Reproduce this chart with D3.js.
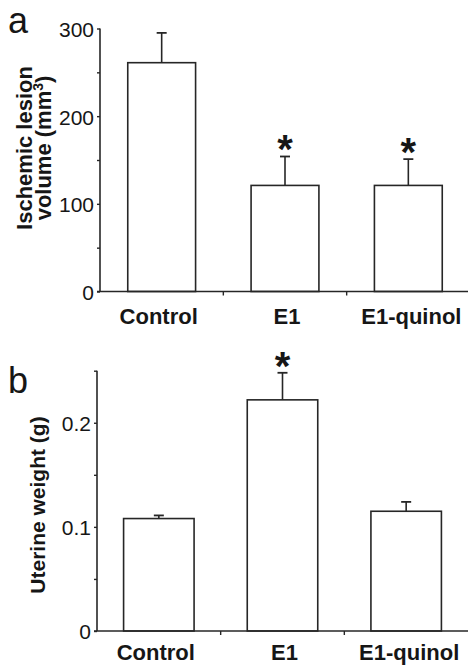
<!DOCTYPE html>
<html>
<head>
<meta charset="utf-8">
<script src="https://cdn.jsdelivr.net/npm/d3@7"></script>
<style>
  body { margin: 0; background: #fff; }
  svg { display: block; }
  text { font-family: Arial, "Liberation Sans", Helvetica, sans-serif; fill: #161616; }
</style>
</head>
<body>
<div id="graph"></div>
<script>
// data
const categories = ["Control", "E1", "E1-quinol"];

const lesionMean = [261, 121, 121];
const lesionErr = [34, 33, 30];
const lesionSig = [false, true, true];
const lesionTicks = [0, 100, 200, 300];
const lesionMinor = [50, 150, 250];

const uterineMean = [0.108, 0.222, 0.115];
const uterineErr = [0.003, 0.026, 0.009];
const uterineSig = [false, true, false];
const uterineTicks = [0, 0.1, 0.2];
const uterineMinor = [0.05, 0.15, 0.25];

const width = 468;
const height = 667;
const ink = "#262626";

const svg = d3.select("#graph").append("svg")
    .attr("width", width)
    .attr("height", height);

function drawPanel(opt) {
  const g = svg.append("g");

  const y = d3.scaleLinear().domain(opt.yDomain).range([opt.bottom, opt.top]);
  // band boundaries (for the between-category ticks)
  const x = d3.scaleBand().domain(categories).range([opt.left, opt.right]);
  // bars, centred in each band
  const xb = d3.scaleBand().domain(categories).range([opt.left, opt.right])
      .paddingInner(opt.pad).paddingOuter(opt.pad / 2);

  // bars
  g.selectAll("rect.bar")
    .data(opt.mean)
    .join("rect")
      .attr("class", "bar")
      .attr("x", (d, i) => xb(categories[i]))
      .attr("y", d => y(d))
      .attr("width", xb.bandwidth())
      .attr("height", d => y(0) - y(d))
      .attr("fill", "#fff")
      .attr("stroke", ink)
      .attr("stroke-width", 1.6);

  // error bars
  const eb = g.selectAll("g.err")
    .data(opt.mean)
    .join("g")
      .attr("class", "err");
  eb.append("line")
      .attr("x1", (d, i) => xb(categories[i]) + xb.bandwidth() / 2)
      .attr("x2", (d, i) => xb(categories[i]) + xb.bandwidth() / 2)
      .attr("y1", d => y(d))
      .attr("y2", (d, i) => y(d + opt.err[i]))
      .attr("stroke", ink)
      .attr("stroke-width", 1.6);
  eb.append("line")
      .attr("x1", (d, i) => xb(categories[i]) + xb.bandwidth() / 2 - 5)
      .attr("x2", (d, i) => xb(categories[i]) + xb.bandwidth() / 2 + 5)
      .attr("y1", (d, i) => y(d + opt.err[i]))
      .attr("y2", (d, i) => y(d + opt.err[i]))
      .attr("stroke", ink)
      .attr("stroke-width", 1.8);

  // significance stars
  g.selectAll("text.star")
    .data(opt.mean.map((d, i) => ({ v: d + opt.err[i], s: opt.sig[i], c: categories[i] })).filter(d => d.s))
    .join("text")
      .attr("class", "star")
      .attr("x", d => xb(d.c) + xb.bandwidth() / 2)
      .attr("y", d => y(d.v) + 7)
      .attr("text-anchor", "middle")
      .attr("font-size", 40)
      .attr("font-weight", "bold")
      .text("*");

  // y axis
  const yAxis = g.append("g")
      .attr("transform", `translate(${opt.left},0)`)
      .call(d3.axisLeft(y).tickValues(opt.ticks).tickFormat(opt.fmt)
        .tickSize(3).tickPadding(3).tickSizeOuter(0));
  yAxis.select(".domain").remove();
  yAxis.selectAll(".tick line").attr("stroke", ink).attr("stroke-width", 1.4);
  yAxis.selectAll(".tick text")
      .attr("font-size", 21)
      .attr("font-family", null)
      .attr("fill", "#161616")
      .attr("dy", "0.38em");
  const yMinor = g.append("g")
      .attr("transform", `translate(${opt.left},0)`)
      .call(d3.axisLeft(y).tickValues(opt.minor).tickFormat("").tickSize(3).tickSizeOuter(0));
  yMinor.select(".domain").remove();
  yMinor.selectAll(".tick line").attr("stroke", ink).attr("stroke-width", 1.4);
  g.append("line")
      .attr("x1", opt.left).attr("x2", opt.left)
      .attr("y1", y(opt.yDomain[1])).attr("y2", y(0))
      .attr("stroke", ink).attr("stroke-width", 1.6);

  // x axis: baseline, ticks between categories, bold labels
  g.append("line")
      .attr("x1", opt.left - 3).attr("x2", opt.right)
      .attr("y1", y(0)).attr("y2", y(0))
      .attr("stroke", ink).attr("stroke-width", 1.6);
  g.selectAll("line.sep")
    .data(categories.slice(1))
    .join("line")
      .attr("class", "sep")
      .attr("x1", d => x(d)).attr("x2", d => x(d))
      .attr("y1", y(0)).attr("y2", y(0) + 4)
      .attr("stroke", ink).attr("stroke-width", 1.4);
  g.selectAll("text.cat")
    .data(categories)
    .join("text")
      .attr("class", "cat")
      .attr("x", (d, i) => xb(d) + xb.bandwidth() / 2 + opt.labelShift[i])
      .attr("y", y(0) + opt.labelGap)
      .attr("text-anchor", "middle")
      .attr("font-size", 22)
      .attr("font-weight", "bold")
      .text(d => d);

  // panel letter
  g.append("text")
      .attr("x", 8)
      .attr("y", opt.letterY)
      .attr("font-size", 36)
      .text(opt.letter);

  // y title
  opt.title(g, opt.titleY);
}

drawPanel({
  letter: "a", letterY: 33,
  yDomain: [0, 300], top: 28.5, bottom: 291.5, left: 100, right: 470,
  pad: 0.45, labelGap: 32, labelShift: [-3, 2, 3],
  mean: lesionMean, err: lesionErr, sig: lesionSig,
  ticks: lesionTicks, minor: lesionMinor, fmt: d3.format("d"),
  titleY: 148,
  title: (g, cy) => {
    g.append("text")
        .attr("transform", `translate(32,${cy}) rotate(-90)`)
        .attr("text-anchor", "middle")
        .attr("font-size", 22)
        .attr("font-weight", "bold")
        .text("Ischemic lesion");
    const t = g.append("text")
        .attr("transform", `translate(51,${cy}) rotate(-90)`)
        .attr("text-anchor", "middle")
        .attr("font-size", 22)
        .attr("font-weight", "bold");
    t.append("tspan").text("volume (mm");
    t.append("tspan").attr("dy", -8).attr("font-size", 14).text("3");
    t.append("tspan").attr("dy", 8).text(")");
  }
});

drawPanel({
  letter: "b", letterY: 393,
  yDomain: [0, 0.25], top: 370.7, bottom: 631, left: 97, right: 468,
  pad: 0.43, labelGap: 29, labelShift: [-3, 2, 3],
  mean: uterineMean, err: uterineErr, sig: uterineSig,
  ticks: uterineTicks, minor: uterineMinor, fmt: d => d === 0 ? "0" : d3.format(".1f")(d),
  titleY: 505,
  title: (g, cy) => {
    g.append("text")
        .attr("transform", `translate(45,${cy}) rotate(-90)`)
        .attr("text-anchor", "middle")
        .attr("font-size", 21)
        .attr("font-weight", "bold")
        .text("Uterine weight (g)");
  }
});
</script>
</body>
</html>
